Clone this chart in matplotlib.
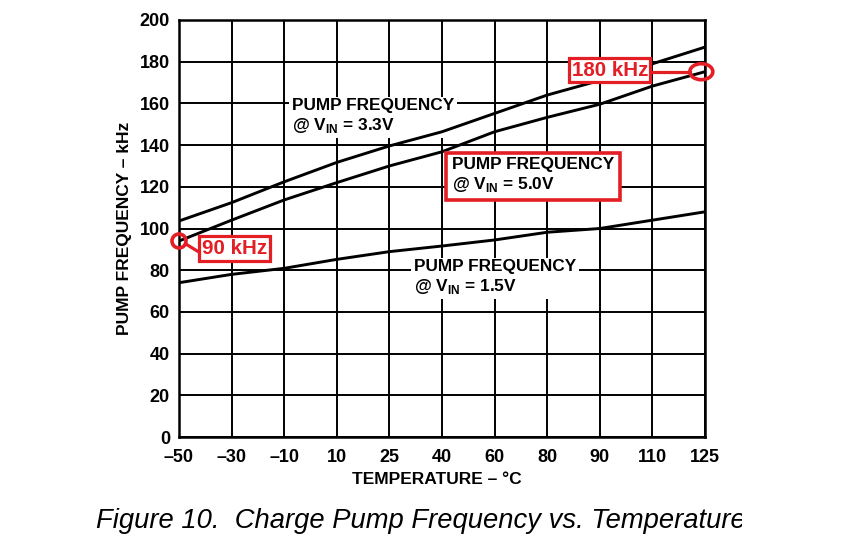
import numpy as np
import matplotlib
matplotlib.use('Agg')
import matplotlib.pyplot as plt
from matplotlib.patches import Ellipse
from matplotlib.transforms import Bbox

plt.rcParams['font.family'] = ['Liberation Sans', 'DejaVu Sans']
plt.rcParams['mathtext.fontset'] = 'custom'
plt.rcParams['mathtext.bf'] = 'Liberation Sans:bold'
plt.rcParams['mathtext.rm'] = 'Liberation Sans:bold'

# Temperature ticks are evenly spaced on the chart (not linear in degrees)
temp_labels = ['\u201350', '\u201330', '\u201310', '10', '25', '40', '60', '80', '90', '110', '125']
freq_3v3 = [103.6, 112.4, 122.4, 131.7, 139.6, 146.4, 155.2, 164.0, 171.0, 179.0, 187.0]
freq_5v0 = [94.0, 104.0, 113.7, 122.0, 130.0, 136.8, 146.4, 153.3, 159.6, 168.3, 175.2]
freq_1v5 = [74.0, 78.0, 80.9, 85.2, 88.9, 91.6, 94.5, 98.2, 100.0, 104.0, 108.0]
y_ticks = list(range(0, 201, 20))

RED = '#e31e24'
W, H = 854, 554

fig = plt.figure(figsize=(W / 100, H / 100), dpi=100)
ax = fig.add_axes([179 / W, 1 - 437 / H, (705 - 179) / W, (437 - 20) / H])

x = np.arange(len(temp_labels))
for f in (freq_3v3, freq_5v0, freq_1v5):
    ax.plot(x, f, color='black', lw=2.1, zorder=3, solid_capstyle='butt')

ax.set_xlim(0, len(temp_labels) - 1)
ax.set_ylim(0, 200)
ax.set_xticks(x)
ax.set_xticklabels(temp_labels)
ax.set_yticks(y_ticks)
ax.grid(True, color='black', lw=1.4, zorder=1)
ax.set_axisbelow(True)
ax.tick_params(length=0, labelsize=13)
ax.tick_params(axis='y', pad=6.5)
ax.tick_params(axis='x', pad=9)
for lab in ax.get_xticklabels() + ax.get_yticklabels():
    lab.set_fontweight('bold')
for s in ax.spines.values():
    s.set_linewidth(1.8)

ax.set_xlabel('TEMPERATURE \u2013 \u00b0C', fontsize=12.5, fontweight='bold', va='center')
ax.xaxis.set_label_coords((437 - 179) / 526, (437 - 479) / 417)
ax.set_ylabel('PUMP FREQUENCY \u2013 kHz', fontsize=12.5, fontweight='bold', va='center')
ax.yaxis.set_label_coords((125 - 179) / 526, 0.5)

# curve labels (box sits above the grid but under the curves)
lbl = dict(fontsize=12.4, fontweight='bold', ha='left', va='top', linespacing=1.25)
ax.text(2.15, 162.6, 'PUMP FREQUENCY\n@ V$_{\\mathbf{IN}}$ = 3.3V', zorder=2,
        bbox=dict(facecolor='white', edgecolor='none', pad=2), **lbl)
ax.text(4.47, 85.4, 'PUMP FREQUENCY\n@ V$_{\\mathbf{IN}}$ = 1.5V', zorder=2,
        bbox=dict(facecolor='white', edgecolor='none', pad=2), **lbl)
ax.text(5.19, 134.3, 'PUMP FREQUENCY\n@ V$_{\\mathbf{IN}}$ = 5.0V', zorder=4,
        bbox=dict(facecolor='white', edgecolor=RED, lw=2.6, pad=4), **lbl)

# red callouts
ax.text(1.06, 90.4, '90 kHz', color=RED, fontsize=14.8, fontweight='bold', ha='center', va='center',
        bbox=dict(facecolor='white', edgecolor=RED, lw=2.3, pad=2.2), zorder=6)
ax.add_patch(Ellipse((0, 94), 14 / 52.6, 14 / 2.085, fill=False, ec=RED, lw=2.6, clip_on=False, zorder=7))
ax.plot([0.14, 0.36], [92.4, 89.0], color=RED, lw=2.3, clip_on=False, zorder=6)

ax.text(8.19, 176, '180 kHz', color=RED, fontsize=14.8, fontweight='bold', ha='center', va='center',
        bbox=dict(facecolor='white', edgecolor=RED, lw=2.3, pad=1.5), zorder=6)
ax.add_patch(Ellipse((9.93, 175.2), 23 / 52.6, 16 / 2.085, fill=False, ec=RED, lw=2.6, clip_on=False, zorder=7))
ax.plot([8.97, 9.71], [175.2, 175.2], color=RED, lw=2.3, clip_on=False, zorder=6)

cap = fig.text(96 / W, 1 - 521 / H, 'Figure 10.  Charge Pump Frequency vs. Temperature',
               fontsize=19.7, style='italic', ha='left', va='center')
cap.set_clip_box(Bbox([[0, 0], [742, H]]))
cap.set_clip_on(True)

fig.savefig('out.png', dpi=100)
